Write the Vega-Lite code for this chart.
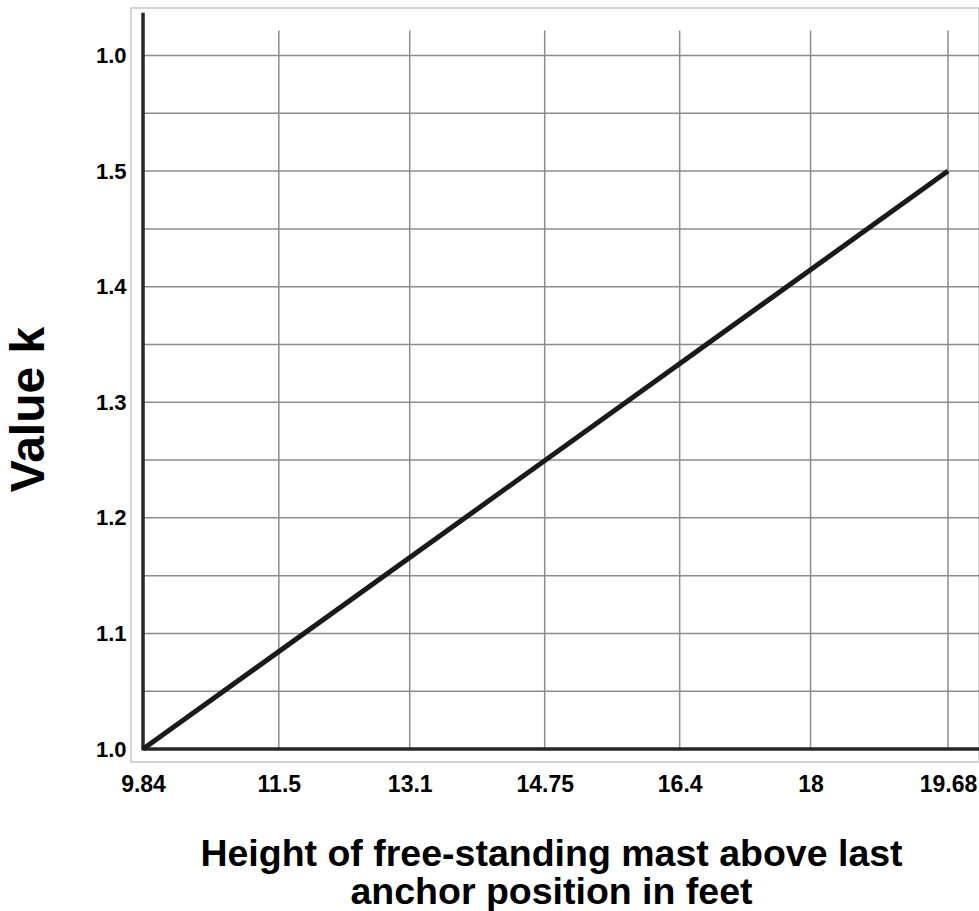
{
  "$schema": "https://vega.github.io/schema/vega-lite/v6.json",
  "width": 848,
  "height": 754,
  "autosize": {"type": "none"},
  "padding": {"left": 131, "top": 8, "right": 0, "bottom": 149},
  "background": "white",
  "config": {
    "font": "Liberation Sans",
    "view": {"stroke": "#c8c8c8", "strokeWidth": 1.5}
  },
  "datasets": {
    "curve": [{"height": 9.84, "k": 1.0}, {"height": 19.68, "k": 1.5}],
    "hgrid": [{"k": 1.05}, {"k": 1.1}, {"k": 1.15}, {"k": 1.2}, {"k": 1.25}, {"k": 1.3}, {"k": 1.35}, {"k": 1.4}, {"k": 1.45}, {"k": 1.5}, {"k": 1.55}, {"k": 1.6}],
    "vgrid": [{"height": 11.5}, {"height": 13.1}, {"height": 14.75}, {"height": 16.4}, {"height": 18}, {"height": 19.68}]
  },
  "layer": [
    {
      "data": {"name": "hgrid"},
      "mark": {"type": "rule", "color": "#8c8c8c", "strokeWidth": 1.5},
      "encoding": {
        "y": {"field": "k", "type": "quantitative", "scale": {"domain": [0.98876, 1.6411], "nice": false, "zero": false},
          "axis": {"values": [1.0, 1.1, 1.2, 1.3, 1.4, 1.5, 1.6], "labelExpr": "datum.value >= 1.59 ? '1.0' : format(datum.value, '.1f')", "grid": false, "domain": false, "ticks": false, "labelFontSize": 22, "labelFontWeight": "bold", "labelColor": "#000", "labelPadding": 5, "title": "Value k", "titleFontSize": 48, "titleFontWeight": "bold", "titleColor": "#000", "titlePadding": 42, "titleY": 401}},
        "x": {"datum": 9.84, "type": "quantitative", "scale": {"domain": [9.693, 20.059], "nice": false, "zero": false},
          "axis": {"values": [9.84, 11.5, 13.1, 14.75, 16.4, 18, 19.68], "format": ".4~g", "grid": false, "domain": false, "ticks": false, "labelFontSize": 23, "labelFontWeight": "bold", "labelColor": "#000", "labelPadding": 11, "labelOverlap": false, "labelBound": false, "title": ["Height of free-standing mast above last", "anchor position in feet"], "titleFontSize": 37.5, "titleFontWeight": "bold", "titleColor": "#000", "titlePadding": 39, "titleLineHeight": 38, "titleX": 420}},
        "x2": {"datum": 20.059}
      }
    },
    {
      "data": {"name": "vgrid"},
      "mark": {"type": "rule", "color": "#8c8c8c", "strokeWidth": 1.5},
      "encoding": {
        "x": {"field": "height", "type": "quantitative"},
        "y": {"datum": 1.0, "type": "quantitative"},
        "y2": {"datum": 1.6216}
      }
    },
    {
      "data": {"values": [{}]},
      "mark": {"type": "rule", "color": "#262626", "strokeWidth": 3.5},
      "encoding": {
        "x": {"datum": 9.84, "type": "quantitative"},
        "y": {"datum": 0.999, "type": "quantitative"},
        "y2": {"datum": 1.637}
      }
    },
    {
      "data": {"values": [{}]},
      "mark": {"type": "rule", "color": "#262626", "strokeWidth": 3.5},
      "encoding": {
        "x": {"datum": 9.83, "type": "quantitative"},
        "x2": {"datum": 20.059},
        "y": {"datum": 1.0, "type": "quantitative"}
      }
    },
    {
      "data": {"name": "curve"},
      "mark": {"type": "line", "color": "#1a1a1a", "strokeWidth": 5},
      "encoding": {
        "x": {"field": "height", "type": "quantitative"},
        "y": {"field": "k", "type": "quantitative"}
      }
    }
  ]
}
